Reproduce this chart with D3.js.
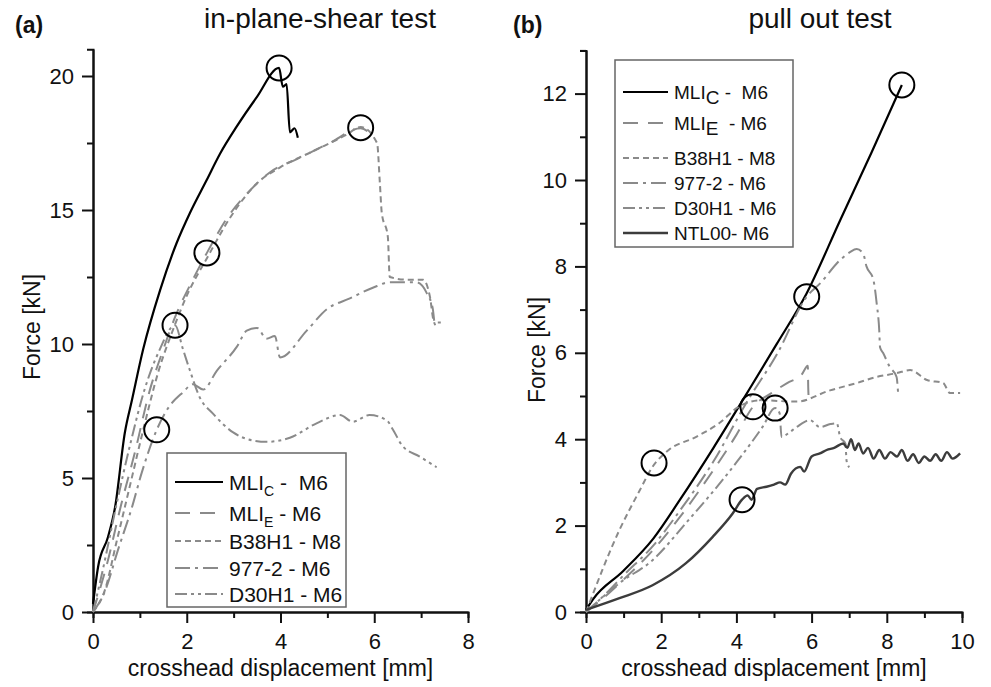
<!DOCTYPE html>
<html>
<head>
<meta charset="utf-8">
<script src="https://cdn.jsdelivr.net/npm/d3@7"></script>
<style>
  body { margin: 0; background: #fff; }
  svg, svg text { font-family: "Liberation Sans", Arial, Helvetica, sans-serif; }
</style>
</head>
<body>
<svg id="chart" width="991" height="687"></svg>
<script>
// ---- data: [crosshead displacement mm, force kN] ----
const shearMLIc = [[0,0.3],[0.11,1.7],[0.32,2.8],[0.47,3.9],[0.68,6.7],[0.83,7.9],[1.07,9.8],[1.43,12.0],[1.78,13.75],[2.07,14.9],[2.42,16.1],[2.71,17.1],[3.06,18.1],[3.49,19.2],[3.97,20.3],[4.05,19.6],[4.13,19.7],[4.2,17.9],[4.3,18.05],[4.37,17.7]];
const shearMLIe = [[0,0],[0.3,1.8],[0.6,4.0],[0.9,6.0],[1.2,8.2],[1.5,9.8],[1.75,11.0],[2.1,12.3],[2.43,13.4],[2.9,14.8],[3.28,15.6],[3.77,16.4],[4.35,16.9],[5.05,17.5],[5.71,18.05],[5.95,17.8]];
const shearB38H1 = [[0,0],[0.25,0.8],[0.5,2.6],[0.8,4.8],[1.1,7.0],[1.4,9.0],[1.7,10.5],[2.0,11.8],[2.43,13.2],[2.92,14.7],[3.5,16.0],[4.0,16.6],[4.7,17.2],[5.4,17.8],[5.71,18.1],[6.06,17.5],[6.12,16.0],[6.16,14.9],[6.29,14.0],[6.33,12.5],[6.7,12.4],[7.04,12.4],[7.19,11.75],[7.25,11.0],[7.3,10.7]];
const shear977 = [[0,0],[0.26,0.8],[0.53,2.3],[0.83,3.9],[1.04,5.2],[1.36,6.8],[1.6,7.6],[1.92,8.2],[2.13,8.5],[2.35,8.3],[2.64,9.0],[3.07,9.9],[3.28,10.5],[3.5,10.6],[3.7,10.2],[3.88,10.3],[3.99,9.5],[4.56,10.5],[4.99,11.3],[5.48,11.7],[5.97,12.1],[6.33,12.3],[6.9,12.3],[7.12,11.9],[7.25,11.3],[7.29,10.8],[7.44,10.8]];
const shearD30H1 = [[0,0],[0.2,1.5],[0.5,4.0],[0.8,6.3],[1.1,8.3],[1.4,9.7],[1.75,10.7],[1.92,9.8],[2.07,9.0],[2.28,8.0],[2.56,7.4],[2.99,6.7],[3.41,6.4],[3.7,6.35],[4.2,6.5],[4.78,7.05],[5.27,7.35],[5.54,7.1],[5.9,7.35],[6.27,7.15],[6.4,6.8],[6.6,6.2],[6.97,5.8],[7.33,5.4]];
const shearFailures = [[3.97,20.3],[5.71,18.07],[2.43,13.4],[1.75,10.7],[1.36,6.8]];

const pullMLIc = [[0,0.05],[0.19,0.3],[0.99,0.95],[1.79,1.7],[2.5,2.6],[3.39,3.8],[4.27,5.05],[5.07,6.2],[5.87,7.38],[6.76,9.07],[7.6,10.65],[8.4,12.2]];
const pullMLIe = [[0,0],[0.5,0.35],[1.0,0.75],[1.8,1.45],[2.5,2.2],[3.4,3.3],[4.0,4.1],[4.44,4.75],[4.9,5.05],[5.35,5.3],[5.74,5.5],[5.9,5.7],[5.91,5.2],[5.93,4.9]];
const pullB38H1 = [[0,0],[0.89,1.9],[1.42,2.8],[1.77,3.36],[2.2,3.75],[2.92,4.05],[3.54,4.37],[4.06,4.75],[4.63,4.9],[5.6,4.87],[6.49,5.13],[7.2,5.3],[7.73,5.44],[8.27,5.53],[8.62,5.6],[9.07,5.37],[9.5,5.3],[9.68,5.07],[9.95,5.07]];
const pull977 = [[0,0],[0.5,0.4],[1.0,0.85],[1.8,1.55],[2.5,2.35],[3.4,3.5],[4.27,4.85],[5.1,6.0],[5.87,7.3],[6.22,7.6],[6.76,8.15],[7.02,8.33],[7.2,8.4],[7.37,8.3],[7.46,8.0],[7.64,7.7],[7.73,7.15],[7.8,6.5],[7.82,6.13],[7.9,6.0],[8.08,5.67],[8.26,5.44],[8.3,5.07]];
const pullD30H1 = [[0,0],[0.89,0.67],[1.77,1.2],[2.66,2.06],[3.99,3.45],[4.7,4.29],[5.03,4.72],[5.15,4.6],[5.2,4.05],[5.4,4.15],[5.6,4.28],[5.96,4.44],[6.22,4.28],[6.5,4.35],[6.67,4.37],[6.76,4.05],[6.9,3.9],[6.93,3.5],[7.0,3.35]];
const pullNTL00 = [[0,0.05],[0.89,0.32],[1.77,0.62],[2.66,1.13],[3.37,1.74],[3.9,2.28],[4.15,2.6],[4.3,2.7],[4.4,2.6],[4.55,2.85],[4.8,2.9],[5.0,2.95],[5.16,3.0],[5.3,2.95],[5.45,3.2],[5.7,3.36],[5.8,3.25],[6.0,3.6],[6.22,3.67],[6.4,3.75],[6.6,3.8],[6.84,3.9],[6.95,3.8],[7.05,4.0],[7.15,3.75],[7.25,3.9],[7.37,3.67],[7.5,3.8],[7.65,3.55],[7.8,3.75],[7.95,3.55],[8.1,3.7],[8.27,3.6],[8.4,3.75],[8.55,3.5],[8.7,3.65],[8.85,3.45],[9.0,3.6],[9.15,3.5],[9.3,3.65],[9.45,3.5],[9.6,3.7],[9.75,3.55],[9.95,3.67]];
const pullFailures = [[8.4,12.2],[5.87,7.3],[4.44,4.75],[5.03,4.72],[1.81,3.45],[4.15,2.6]];

const shearNames = ["MLI_C -  M6", "MLI_E - M6", "B38H1 - M8", "977-2 - M6", "D30H1 - M6"];
const pullNames  = ["MLI_C -  M6", "MLI_E  - M6", "B38H1 - M8", "977-2 - M6", "D30H1 - M6", "NTL00- M6"];

const shearXTicks = [0, 2, 4, 6, 8];
const shearXMinor = [1, 3, 5, 7];
const shearYTicks = [0, 5, 10, 15, 20];
const shearYMinor = [2.5, 7.5, 12.5, 17.5];
const pullXTicks = [0, 2, 4, 6, 8, 10];
const pullXMinor = [1, 3, 5, 7, 9];
const pullYTicks = [0, 2, 4, 6, 8, 10, 12];
const pullYMinor = [1, 3, 5, 7, 9, 11, 13];

// line styles per series (same order for both panels)
const STYLES = [
  {color: "#000",    dash: null,           width: 2.2},
  {color: "#8a8a8a", dash: "15,10",        width: 2},
  {color: "#8a8a8a", dash: "6,4",          width: 2},
  {color: "#8a8a8a", dash: "15,5,3,5",     width: 2},
  {color: "#8a8a8a", dash: "12,4,3,4,3,4", width: 2},
  {color: "#3c3c3c", dash: null,           width: 2.4}
];

const FONT = "Liberation Sans, Arial, Helvetica, sans-serif";
const svg = d3.select("#chart");

function drawPanel(cfg) {
  let x = d3.scaleLinear().domain(cfg.xDomain).range(cfg.xRange);
  let y = d3.scaleLinear().domain(cfg.yDomain).range([612, 612 - cfg.yDomain[1] * cfg.yUnit]);
  let g = svg.append("g");

  // minor ticks first, major axis on top
  g.append("g").attr("transform", "translate(0,612)")
    .call(d3.axisBottom(x).tickValues(cfg.xMinor).tickSize(6).tickFormat(""));
  g.append("g").attr("transform", `translate(${cfg.xRange[0]},0)`)
    .call(d3.axisLeft(y).tickValues(cfg.yMinor).tickSize(6).tickFormat(""));

  g.append("g").attr("transform", "translate(0,612)")
    .call(d3.axisBottom(x).tickValues(cfg.xTicks).tickSize(11).tickSizeOuter(0).tickPadding(10));
  g.append("g").attr("transform", `translate(${cfg.xRange[0]},0)`)
    .call(d3.axisLeft(y).tickValues(cfg.yTicks).tickSize(11).tickSizeOuter(0).tickPadding(8));

  g.selectAll(".domain").attr("stroke", "#111").attr("stroke-width", 2);
  g.selectAll(".tick line").attr("stroke", "#111").attr("stroke-width", 2);
  g.selectAll(".tick text").attr("font-size", 22).attr("fill", "#111")
    .attr("font-family", FONT);

  // curves
  let line = d3.line().curve(d3.curveMonotoneX).x(d => x(d[0])).y(d => y(d[1]));
  cfg.series.forEach((s, i) => {
    let st = STYLES[i];
    g.append("path")
      .attr("d", line(s))
      .attr("fill", "none")
      .attr("stroke", st.color)
      .attr("stroke-width", st.width)
      .attr("stroke-dasharray", st.dash)
      .attr("stroke-linejoin", "round");
  });

  // failure circles
  g.selectAll(".fail").data(cfg.failures).enter().append("circle")
    .attr("cx", d => x(d[0])).attr("cy", d => y(d[1])).attr("r", 12.5)
    .attr("fill", "none").attr("stroke", "#000").attr("stroke-width", 2);

  // titles
  svg.append("text").attr("x", cfg.tagX).attr("y", 33).attr("font-size", 23)
    .attr("font-family", FONT).attr("font-weight", "bold").attr("fill", "#111").text(cfg.tag);
  svg.append("text").attr("x", cfg.titleX).attr("y", 28).attr("font-size", 28)
    .attr("font-family", FONT).attr("text-anchor", "middle").attr("fill", "#111").text(cfg.title);
  svg.append("text").attr("x", (cfg.xRange[0] + cfg.xRange[1]) / 2).attr("y", 676)
    .attr("font-family", FONT).attr("font-size", 23).attr("text-anchor", "middle").attr("fill", "#111")
    .text("crosshead displacement [mm]");
  svg.append("text")
    .attr("transform", `translate(${cfg.yLabelX},${cfg.yLabelY}) rotate(-90)`)
    .attr("font-family", FONT).attr("font-size", 23).attr("text-anchor", "middle").attr("fill", "#111")
    .text("Force [kN]");

  // legend
  let lg = cfg.legend;
  svg.append("rect").attr("x", lg.x).attr("y", lg.y).attr("width", lg.w).attr("height", lg.h)
    .attr("fill", "#fff").attr("stroke", "#666").attr("stroke-width", 1.5);
  cfg.names.forEach((name, i) => {
    let st = STYLES[i];
    let ry = lg.rows[i];
    svg.append("line")
      .attr("x1", lg.x + 8).attr("x2", lg.x + 8 + lg.sample)
      .attr("y1", ry).attr("y2", ry)
      .attr("stroke", st.color).attr("stroke-width", st.width)
      .attr("stroke-dasharray", st.dash);
    let t = svg.append("text").attr("x", lg.x + 14 + lg.sample).attr("y", ry + lg.fs * 0.36)
      .attr("font-family", FONT).attr("font-size", lg.fs).attr("fill", "#111")
      .style("white-space", "pre");
    let parts = name.split("_");
    if (parts.length > 1) {
      t.append("tspan").text(parts[0]);
      t.append("tspan").attr("font-size", lg.subFs).attr("dy", lg.subDy).text(parts[1][0]);
      t.append("tspan").attr("dy", -lg.subDy).text(parts[1].slice(1));
    } else {
      t.text(name);
    }
  });
}

drawPanel({
  xDomain: [0, 8], xRange: [93, 468], yDomain: [0, 21], yUnit: 26.8,
  xTicks: shearXTicks, xMinor: shearXMinor, yTicks: shearYTicks, yMinor: shearYMinor,
  series: [shearMLIc, shearMLIe, shearB38H1, shear977, shearD30H1],
  failures: shearFailures, names: shearNames,
  tag: "(a)", tagX: 15, title: "in-plane-shear test", titleX: 320,
  yLabelX: 40, yLabelY: 327,
  legend: {x: 167, y: 453, w: 179, h: 154, sample: 48, fs: 21, subFs: 14, subDy: 6,
           rows: [482, 513, 541, 568, 594]}
});

drawPanel({
  xDomain: [0, 10], xRange: [586, 962], yDomain: [0, 13], yUnit: 43.2,
  xTicks: pullXTicks, xMinor: pullXMinor, yTicks: pullYTicks, yMinor: pullYMinor,
  series: [pullMLIc, pullMLIe, pullB38H1, pull977, pullD30H1, pullNTL00],
  failures: pullFailures, names: pullNames,
  tag: "(b)", tagX: 513, title: "pull out test", titleX: 820,
  yLabelX: 545, yLabelY: 350,
  legend: {x: 615, y: 60, w: 178, h: 187, sample: 45, fs: 19, subFs: 19, subDy: 5,
           rows: [92, 123, 158, 183, 208, 233]}
});
</script>
</body>
</html>
